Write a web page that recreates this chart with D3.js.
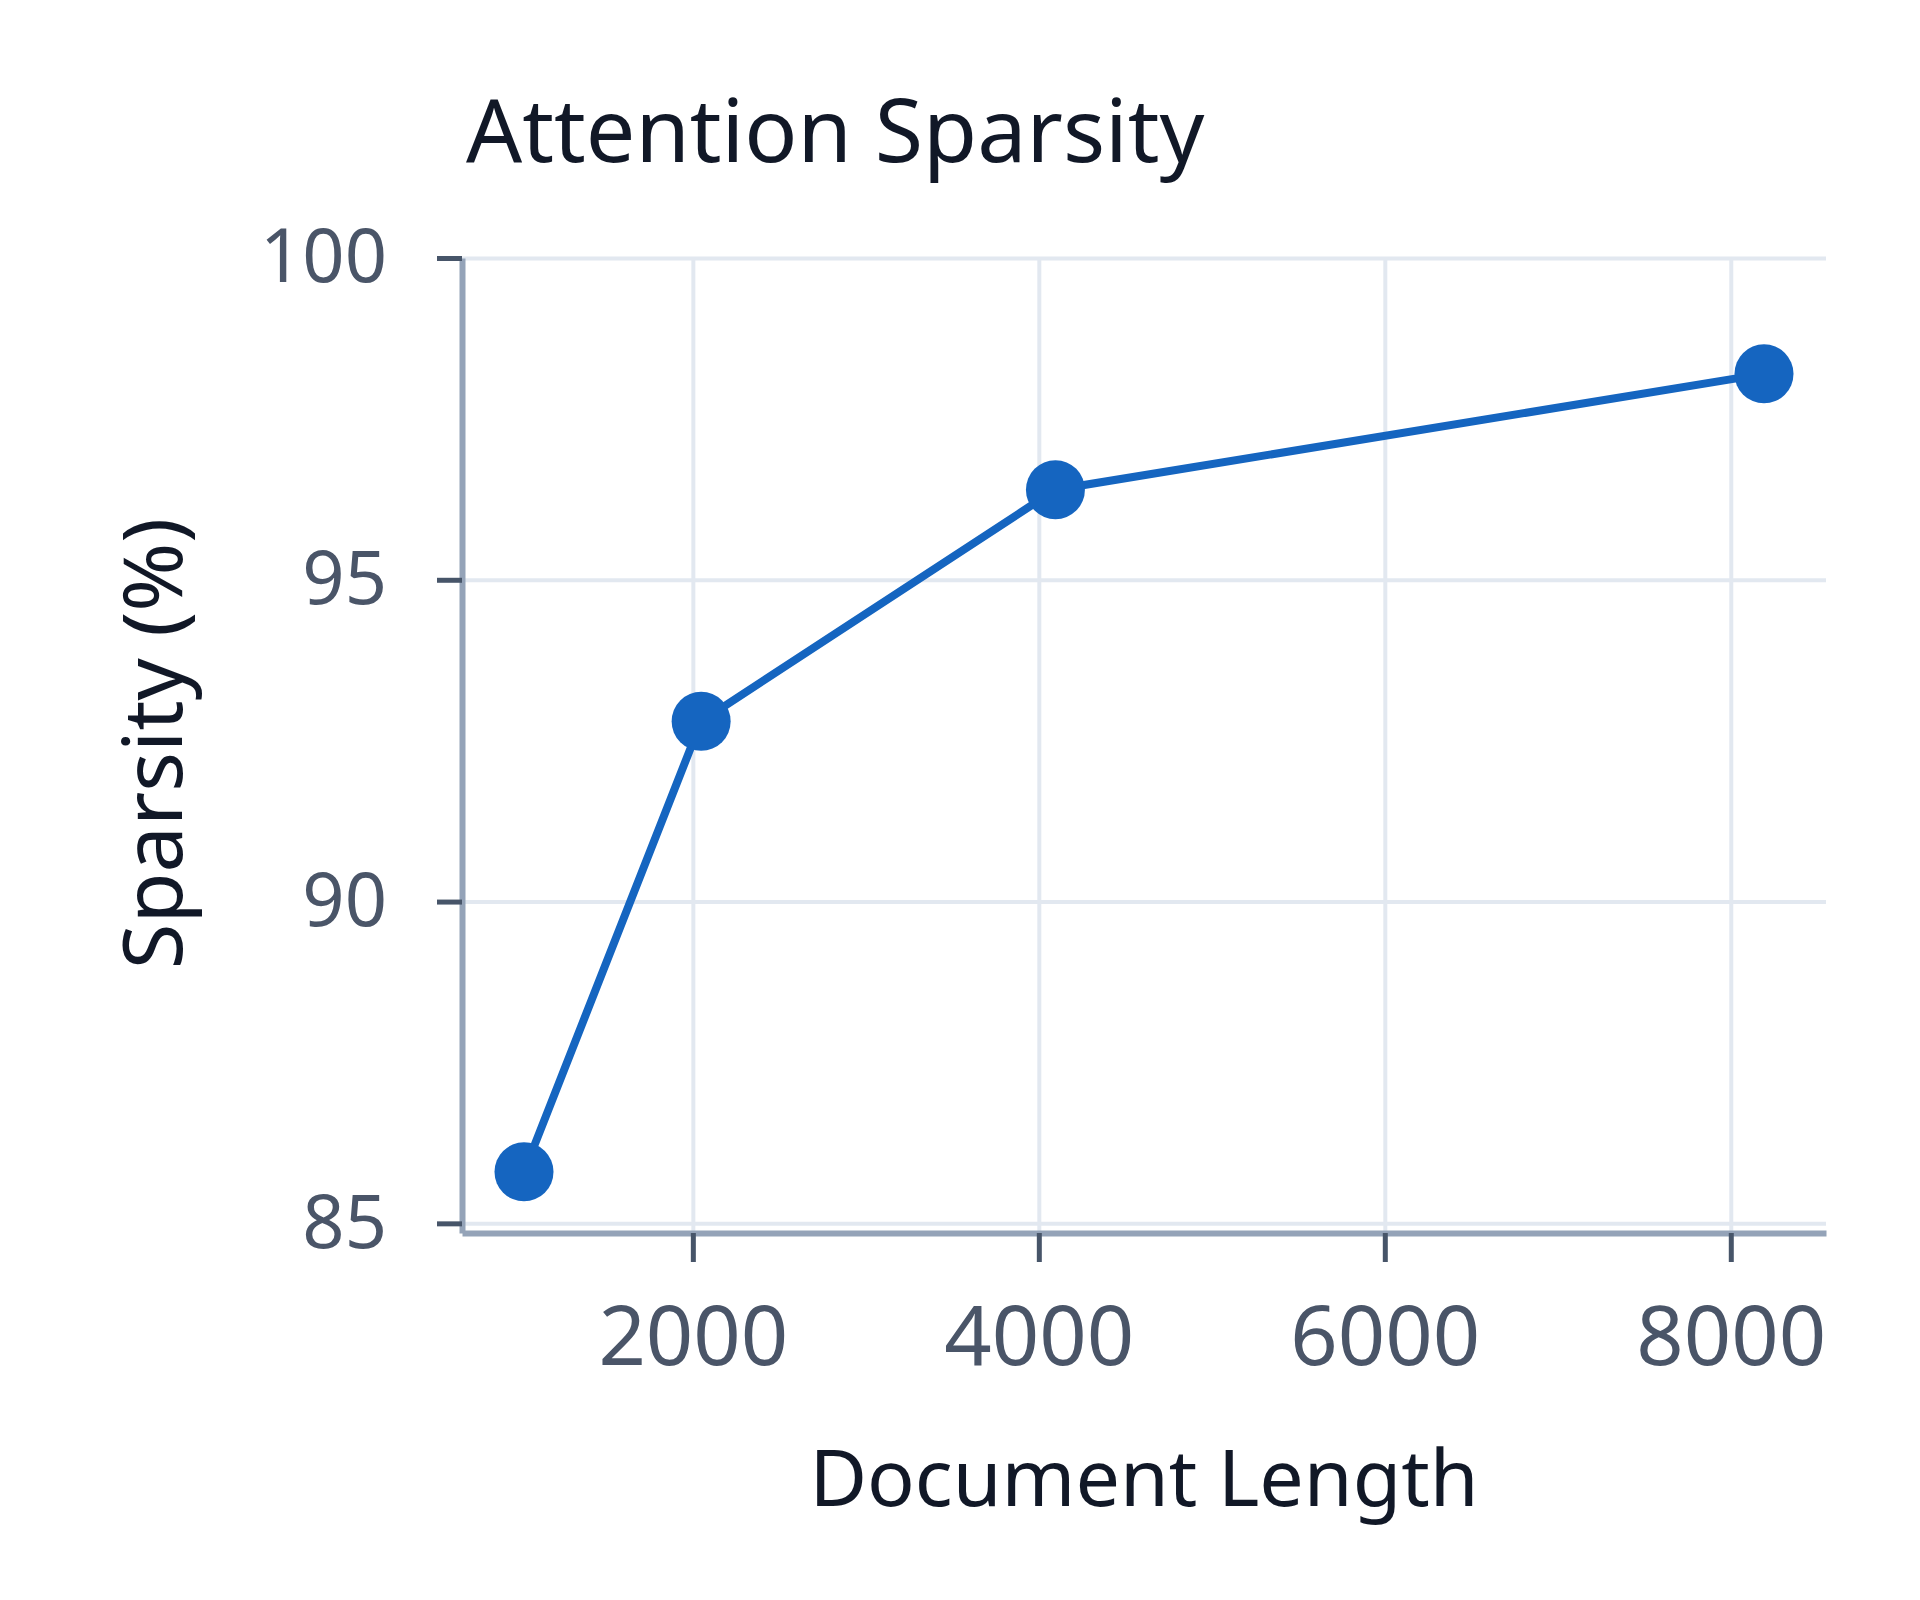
<!DOCTYPE html>
<html lang="en">
<head>
    <meta charset="UTF-8">
    <script src="https://d3js.org/d3.v7.min.js"></script>
    <style>
        body { margin: 0; background: #fff; font-family: "Noto Sans", sans-serif; }
        .grid line { stroke: #e2e8f0; stroke-width: 4px; }
        .grid .domain { display: none; }
    </style>
</head>
<body>
    <div id="chart"></div>
    <script>
        // data
        const docLength = [1024, 2048, 4096, 8192];
        const sparsity = [85.8, 92.8, 96.4, 98.2];
        const xTicks = [2000, 4000, 6000, 8000];
        const yTicks = [85, 90, 95, 100];

        const W = 1920, H = 1600;
        const margin = { top: 258, right: 94, bottom: 367, left: 462 };
        const width = W - margin.left - margin.right;
        const height = H - margin.top - margin.bottom;

        const svg = d3.select("#chart").append("svg")
            .attr("width", W).attr("height", H);

        const g = svg.append("g").attr("transform", `translate(${margin.left},${margin.top})`);

        // 5% padding on x like the original
        const pad = (d3.max(docLength) - d3.min(docLength)) * 0.05;
        const x = d3.scaleLinear()
            .domain([d3.min(docLength) - pad, d3.max(docLength) + pad])
            .range([0, width]);

        const y = d3.scaleLinear()
            .domain([84.85, 100])
            .range([height, 0]);

        // gridlines
        g.append("g").attr("class", "grid")
            .call(d3.axisLeft(y).tickValues(yTicks).tickSize(-width).tickFormat(""));
        g.append("g").attr("class", "grid")
            .attr("transform", `translate(0,${height})`)
            .call(d3.axisBottom(x).tickValues(xTicks).tickSize(-height).tickFormat(""));

        // axes
        const yAxis = g.append("g")
            .call(d3.axisLeft(y).tickValues(yTicks).tickSize(25).tickPadding(50).tickSizeOuter(0));
        const xAxis = g.append("g")
            .attr("transform", `translate(0,${height})`)
            .call(d3.axisBottom(x).tickValues(xTicks).tickFormat(d3.format("d")).tickSize(29).tickPadding(44).tickSizeOuter(0));

        [xAxis, yAxis].forEach(a => {
            a.select(".domain").attr("stroke", "#94a3b8").attr("stroke-width", 6);
            a.selectAll(".tick line").attr("stroke", "#475569").attr("stroke-width", 5);
            a.selectAll(".tick text")
                .attr("fill", "#4a5568")
                .style("font-family", "Noto Sans");
        });
        yAxis.selectAll(".tick text").style("font-size", "74px");
        xAxis.selectAll(".tick text").style("font-size", "83px");

        // line + points
        const pts = docLength.map((d, i) => ({ len: d, val: sparsity[i] }));
        const line = d3.line().x(d => x(d.len)).y(d => y(d.val));

        g.append("path")
            .datum(pts)
            .attr("fill", "none")
            .attr("stroke", "#1565c0")
            .attr("stroke-width", 8)
            .attr("d", line);

        g.selectAll(".dot")
            .data(pts)
            .enter()
            .append("circle")
            .attr("class", "dot")
            .attr("cx", d => x(d.len))
            .attr("cy", d => y(d.val))
            .attr("r", 29.5)
            .attr("fill", "#1565c0");

        // titles
        svg.append("text")
            .attr("x", margin.left + 4)
            .attr("y", 162)
            .attr("fill", "#111827")
            .style("font-size", "88px")
            .text("Attention Sparsity");

        svg.append("text")
            .attr("x", margin.left + width / 2)
            .attr("y", 1506)
            .attr("text-anchor", "middle")
            .attr("fill", "#111827")
            .style("font-size", "79px")
            .text("Document Length");

        svg.append("text")
            .attr("transform", `translate(182,${margin.top + height / 2 - 2}) rotate(-90)`)
            .attr("text-anchor", "middle")
            .attr("fill", "#111827")
            .style("font-size", "83px")
            .text("Sparsity (%)");
    </script>
</body>
</html>
